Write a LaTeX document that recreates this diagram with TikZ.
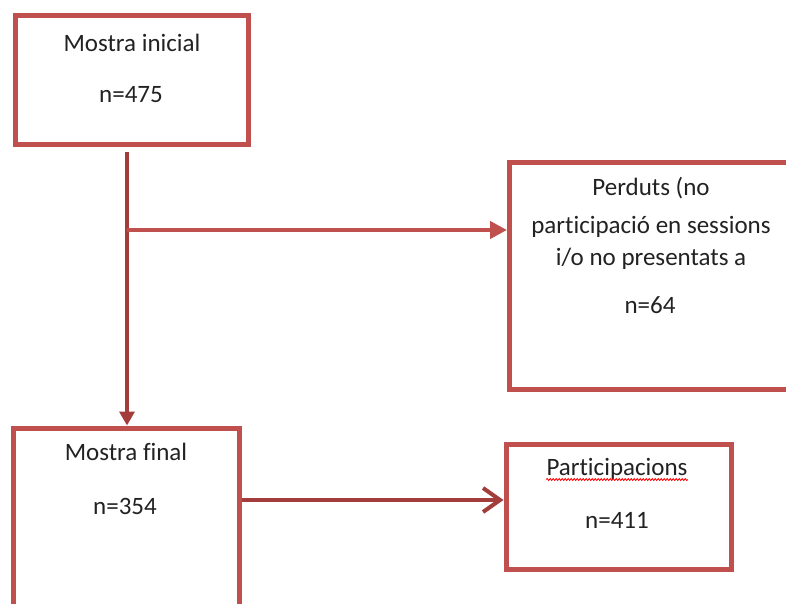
\documentclass[tikz,border=0pt]{standalone}
\usepackage{fontspec}
\setmainfont{Carlito}[Ligatures={NoCommon,NoRare,NoContextual}]
\usetikzlibrary{arrows.meta,decorations.pathmorphing}
\definecolor{boxred}{HTML}{C0504D}
\definecolor{darkred}{HTML}{A23D3B}
\definecolor{txt}{HTML}{222222}
\begin{document}
\begin{tikzpicture}[x=1pt,y=-1pt,
  box/.style={draw=boxred, line width=5pt, rectangle, inner sep=0pt, fill=none},
  lbl/.style={anchor=base, inner sep=0pt, text=txt, font=\fontsize{25}{30}\selectfont},
  lineA/.style={draw=boxred, line width=4.5pt, -{Triangle[length=17pt,width=17pt]}},
  lineB/.style={draw=darkred, line width=3.5pt, -{Triangle[length=14pt,width=15pt]}},
  lineC/.style={draw=darkred, line width=4pt, -{Straight Barb[length=17pt,width=24pt,line width=4pt]}},
  spell/.style={draw=red, line width=0.8pt, decorate, decoration={snake, amplitude=1pt, segment length=3pt}}]
\useasboundingbox (0,0) rectangle (786,604);
\clip (0,0) rectangle (786,604);
\fill[white] (0,0) rectangle (786,604);

% boxes
\node[box, minimum width=233pt, minimum height=128.5pt] (b1) at (132.25,80) {};
\node[box, minimum width=300pt, minimum height=226pt] (b2) at (659.5,276) {};
\node[box, minimum width=225.7pt, minimum height=192pt] (b3) at (126.15,524) {};
\node[box, minimum width=225pt, minimum height=124.5pt] (b4) at (618.5,506.75) {};

% texts
\node[lbl] (t1a) at (132,52) {Mostra inicial};
\node[lbl] (t1b) at (131,103) {n=475};
\node[lbl] (t2a) at (651,195) {Perduts (no};
\node[lbl] (t2b) at (651,233) {participació en sessions};
\node[lbl] (t2c) at (651,265) {i/o no presentats a};
\node[lbl] (t2d) at (650,313) {n=64};
\node[lbl] (t3a) at (126,460) {Mostra final};
\node[lbl] (t3b) at (125,514) {n=354};
\node[lbl] (t4a) at (617,475) {Participacions};
\node[lbl] (t4b) at (617,528) {n=411};
\draw[spell] ([yshift=-4.5pt]t4a.base west) -- ([yshift=-4.5pt]t4a.base east);

% connectors
\coordinate (s1) at (127,152);
\coordinate (j) at (127,230);
\draw[lineB] (s1) -- (s1 |- b3.north);
\draw[lineA] (j) -- (j -| b2.west);
\coordinate (s3) at (b3.east |- 0,500);
\draw[lineC] (s3) -- (s3 -| b4.west);
\end{tikzpicture}
\end{document}
